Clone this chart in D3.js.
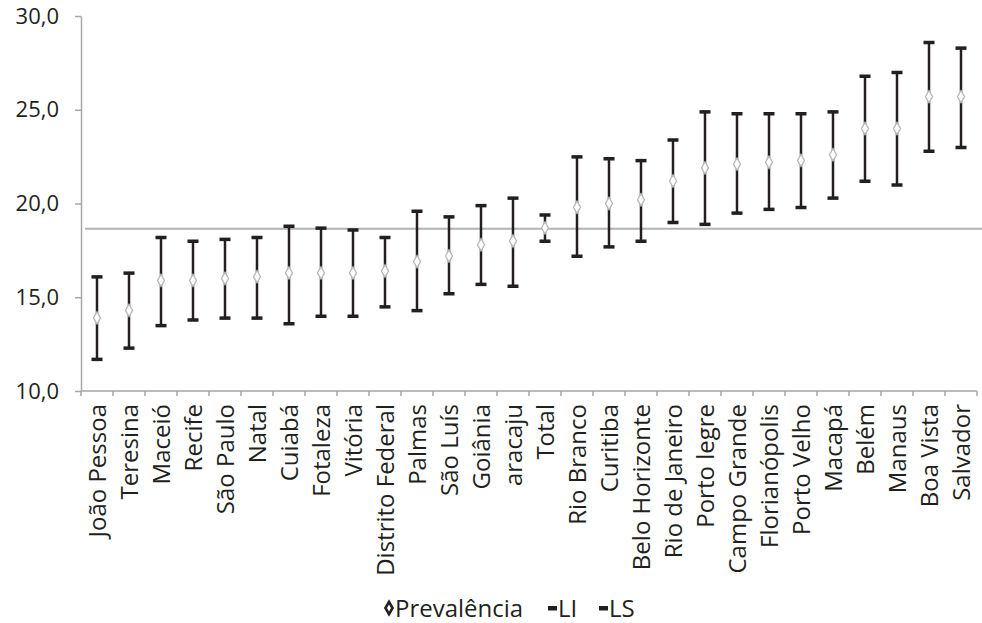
<!DOCTYPE html>
<html>
<head>
<meta charset="utf-8">
<script src="https://cdn.jsdelivr.net/npm/d3@7"></script>
<style>
  body { margin: 0; background: #fff; }
  svg { display: block; font-family: "Open Sans", sans-serif; }
</style>
</head>
<body>
<div id="chart"></div>
<script>
const categories = ["João Pessoa", "Teresina", "Maceió", "Recife", "São Paulo", "Natal", "Cuiabá",
  "Fotaleza", "Vitória", "Distrito Federal", "Palmas", "São Luís", "Goiânia", "aracaju", "Total",
  "Rio Branco", "Curitiba", "Belo Horizonte", "Rio de Janeiro", "Porto legre", "Campo Grande",
  "Florianópolis", "Porto Velho", "Macapá", "Belém", "Manaus", "Boa Vista", "Salvador"];
const prevalencia = [13.9, 14.3, 15.9, 15.9, 16.0, 16.1, 16.3, 16.3, 16.3, 16.4, 16.9, 17.2, 17.8, 18.0, 18.7,
  19.8, 20.0, 20.2, 21.2, 21.9, 22.1, 22.2, 22.3, 22.6, 24.0, 24.0, 25.7, 25.7];
const li = [11.7, 12.3, 13.5, 13.8, 13.9, 13.9, 13.6, 14.0, 14.0, 14.5, 14.3, 15.2, 15.7, 15.6, 18.0,
  17.2, 17.7, 18.0, 19.0, 18.9, 19.5, 19.7, 19.8, 20.3, 21.2, 21.0, 22.8, 23.0];
const ls = [16.1, 16.3, 18.2, 18.0, 18.1, 18.2, 18.8, 18.7, 18.6, 18.2, 19.6, 19.3, 19.9, 20.3, 19.4,
  22.5, 22.4, 22.3, 23.4, 24.9, 24.8, 24.8, 24.8, 24.9, 26.8, 27.0, 28.6, 28.3];
const yTicks = [10, 15, 20, 25, 30];
const totalLine = 18.65;

const W = 982, H = 623;
const margin = { top: 16, right: 5, bottom: 232, left: 81 };

const data = categories.map((c, i) => ({ cat: c, p: prevalencia[i], lo: li[i], hi: ls[i] }));

const svg = d3.select("#chart").append("svg")
  .attr("width", W)
  .attr("height", H);

const x = d3.scaleBand().domain(categories).range([margin.left, W - margin.right]);
const y = d3.scaleLinear().domain([10, 30]).range([H - margin.bottom, margin.top]);

const locale = d3.formatLocale({ decimal: ",", thousands: ".", grouping: [3], currency: ["R$", ""] });
const fmt = locale.format(".1f");

// eixo Y
const yAxis = svg.append("g")
  .attr("transform", `translate(${margin.left},0)`)
  .call(d3.axisLeft(y).tickValues(yTicks).tickFormat(fmt).tickSize(6).tickSizeOuter(0).tickPadding(16));
yAxis.select(".domain").attr("stroke", "#a6a6a6").attr("stroke-width", 1.5);
yAxis.selectAll(".tick line").attr("stroke", "#a6a6a6").attr("stroke-width", 1.5);
yAxis.selectAll(".tick text").attr("font-size", 22).attr("fill", "#231f20")
  .attr("font-family", "Open Sans");

// eixo X
const x0 = y(10);
const xAxis = svg.append("g").attr("transform", `translate(0,${x0})`);
xAxis.append("line")
  .attr("x1", margin.left).attr("x2", W - margin.right)
  .attr("stroke", "#a6a6a6").attr("stroke-width", 1.5);
const bounds = categories.map(c => x(c)).concat([x.range()[1]]);
xAxis.selectAll(".xt").data(bounds).join("line")
  .attr("x1", d => d).attr("x2", d => d)
  .attr("y1", 0).attr("y2", 5)
  .attr("stroke", "#a6a6a6").attr("stroke-width", 1.5);
xAxis.selectAll(".xl").data(categories).join("text")
  .attr("transform", d => `translate(${x(d) + x.bandwidth() / 2},13) rotate(-90)`)
  .attr("text-anchor", "end")
  .attr("dy", "0.36em")
  .attr("font-size", 24)
  .attr("fill", "#231f20")
  .text(d => d);

// linha do total
svg.append("line")
  .attr("x1", margin.left + 4).attr("x2", W)
  .attr("y1", y(totalLine)).attr("y2", y(totalLine))
  .attr("stroke", "#b3b3b3").attr("stroke-width", 2);

// barras de erro
const g = svg.append("g");
const cx = d => x(d.cat) + x.bandwidth() / 2;
g.selectAll(".hl").data(data).join("line")
  .attr("x1", cx).attr("x2", cx)
  .attr("y1", d => y(d.lo)).attr("y2", d => y(d.hi))
  .attr("stroke", "#231f20").attr("stroke-width", 2.5);
g.selectAll(".lo").data(data).join("rect")
  .attr("x", d => cx(d) - 5.5).attr("y", d => y(d.lo) - 1.5)
  .attr("width", 11).attr("height", 3.5)
  .attr("fill", "#231f20");
g.selectAll(".hi").data(data).join("rect")
  .attr("x", d => cx(d) - 5.5).attr("y", d => y(d.hi) - 1.5)
  .attr("width", 11).attr("height", 3.5)
  .attr("fill", "#231f20");

// pontos de prevalência
const diamond = d3.symbol().type(d3.symbolDiamond).size(44);
g.selectAll(".pt").data(data).join("path")
  .attr("transform", d => `translate(${cx(d)},${y(d.p)})`)
  .attr("d", diamond)
  .attr("fill", "#fff")
  .attr("stroke", "#b8b8b8")
  .attr("stroke-width", 1.3);

// legenda
const legend = svg.append("g").attr("transform", `translate(0,608)`);
legend.append("path")
  .attr("transform", "translate(389,0)")
  .attr("d", d3.symbol().type(d3.symbolDiamond).size(44))
  .attr("fill", "#fff").attr("stroke", "#231f20").attr("stroke-width", 2.6);
legend.append("text").attr("x", 395).attr("dy", "0.36em")
  .attr("font-size", 24).attr("fill", "#231f20").text("Prevalência");
legend.append("rect").attr("x", 548).attr("y", -2).attr("width", 9).attr("height", 4.5).attr("fill", "#231f20");
legend.append("text").attr("x", 558).attr("dy", "0.36em")
  .attr("font-size", 24).attr("fill", "#231f20").text("LI");
legend.append("rect").attr("x", 599).attr("y", -2).attr("width", 9).attr("height", 4.5).attr("fill", "#231f20");
legend.append("text").attr("x", 609).attr("dy", "0.36em")
  .attr("font-size", 24).attr("fill", "#231f20").text("LS");
</script>
</body>
</html>
